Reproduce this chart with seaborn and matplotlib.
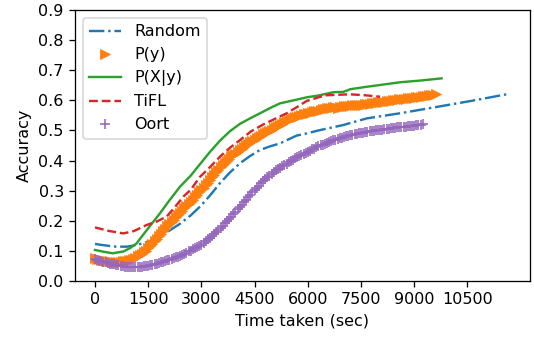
import matplotlib
matplotlib.use("Agg")
import matplotlib.pyplot as plt
import seaborn as sns

# Random client selection
random_t = [0, 300, 600, 900, 1200, 1600, 2000, 2396, 2700, 2960, 3250, 3524, 3800,
            4088, 4370, 4652, 4930, 5216, 5686, 5968, 6300, 7000, 7660, 8600, 9630,
            10600, 11600]
random_acc = [0.123, 0.118, 0.114, 0.114, 0.120, 0.135, 0.160, 0.190, 0.218, 0.247,
              0.285, 0.325, 0.360, 0.391, 0.415, 0.435, 0.447, 0.457, 0.483, 0.490,
              0.500, 0.518, 0.540, 0.557, 0.578, 0.598, 0.620]

# Wall-clock time at the end of each training round (sec)
round_times = [
    0, 60, 120, 180, 240, 300, 360, 420, 480, 540, 600, 660, 720, 780, 840, 900,
    960, 1020, 1080, 1140, 1200, 1260, 1320, 1380, 1440, 1500, 1560, 1620, 1680,
    1740, 1800, 1860, 1920, 1980, 2040, 2100, 2160, 2220, 2280, 2340, 2400, 2460,
    2520, 2580, 2640, 2700, 2760, 2820, 2880, 2940, 3000, 3060, 3120, 3180, 3240,
    3300, 3360, 3420, 3480, 3540, 3600, 3660, 3720, 3780, 3840, 3900, 3960, 4020,
    4080, 4140, 4200, 4260, 4320, 4380, 4440, 4500, 4560, 4620, 4680, 4740, 4800,
    4860, 4920, 4980, 5040, 5100, 5160, 5220, 5280, 5340, 5400, 5460, 5520, 5580,
    5640, 5700, 5760, 5820, 5880, 5940, 6000, 6060, 6120, 6180, 6240, 6300, 6360,
    6420, 6480, 6540, 6600, 6660, 6720, 6780, 6840, 6900, 6960, 7020, 7080, 7140,
    7200, 7260, 7320, 7380, 7440, 7500, 7560, 7620, 7680, 7740, 7800, 7860, 7920,
    7980, 8040, 8100, 8160, 8220, 8280, 8340, 8400, 8460, 8520, 8580, 8640, 8700,
    8760, 8820, 8880, 8940, 9000, 9060, 9120, 9180, 9240, 9300, 9360, 9420, 9480,
    9540, 9600]

# P(y) selection, accuracy after every round
py_acc = [
    0.075, 0.074, 0.072, 0.071, 0.069, 0.068, 0.066, 0.065, 0.064, 0.063, 0.063,
    0.063, 0.064, 0.065, 0.066, 0.067, 0.069, 0.071, 0.074, 0.078, 0.082, 0.086,
    0.090, 0.095, 0.101, 0.108, 0.116, 0.123, 0.132, 0.140, 0.150, 0.157, 0.166,
    0.173, 0.182, 0.190, 0.196, 0.203, 0.211, 0.219, 0.227, 0.234, 0.242, 0.248,
    0.255, 0.262, 0.269, 0.278, 0.285, 0.294, 0.302, 0.310, 0.319, 0.327, 0.335,
    0.344, 0.352, 0.361, 0.368, 0.377, 0.385, 0.392, 0.399, 0.406, 0.414, 0.418,
    0.423, 0.429, 0.434, 0.440, 0.445, 0.450, 0.455, 0.460, 0.465, 0.469, 0.474,
    0.479, 0.483, 0.487, 0.491, 0.495, 0.499, 0.503, 0.507, 0.511, 0.515, 0.519,
    0.523, 0.527, 0.531, 0.534, 0.537, 0.540, 0.543, 0.546, 0.549, 0.551, 0.554,
    0.555, 0.557, 0.559, 0.561, 0.563, 0.565, 0.566, 0.568, 0.570, 0.571, 0.573,
    0.574, 0.576, 0.578, 0.577, 0.576, 0.578, 0.579, 0.580, 0.580, 0.581, 0.582,
    0.583, 0.583, 0.584, 0.584, 0.585, 0.586, 0.587, 0.588, 0.589, 0.590, 0.591,
    0.592, 0.593, 0.594, 0.595, 0.596, 0.597, 0.598, 0.599, 0.600, 0.601, 0.602,
    0.603, 0.604, 0.605, 0.606, 0.607, 0.607, 0.608, 0.609, 0.610, 0.611, 0.612,
    0.613, 0.614, 0.615, 0.617, 0.618, 0.619, 0.620]

# Oort, accuracy after every round (stops earlier)
oort_acc = [
    0.072, 0.070, 0.068, 0.066, 0.064, 0.062, 0.060, 0.058, 0.056, 0.055, 0.053,
    0.052, 0.050, 0.049, 0.048, 0.047, 0.047, 0.046, 0.046, 0.046, 0.046, 0.047,
    0.048, 0.049, 0.050, 0.051, 0.053, 0.054, 0.056, 0.058, 0.060, 0.062, 0.064,
    0.066, 0.069, 0.071, 0.073, 0.076, 0.079, 0.081, 0.084, 0.087, 0.091, 0.094,
    0.098, 0.101, 0.105, 0.109, 0.113, 0.117, 0.121, 0.126, 0.132, 0.138, 0.144,
    0.150, 0.157, 0.163, 0.170, 0.177, 0.184, 0.191, 0.199, 0.206, 0.214, 0.222,
    0.230, 0.238, 0.246, 0.254, 0.262, 0.270, 0.278, 0.286, 0.294, 0.302, 0.309,
    0.317, 0.324, 0.331, 0.338, 0.344, 0.350, 0.356, 0.361, 0.367, 0.372, 0.376,
    0.381, 0.386, 0.390, 0.394, 0.398, 0.403, 0.407, 0.411, 0.415, 0.419, 0.422,
    0.426, 0.430, 0.433, 0.437, 0.440, 0.444, 0.447, 0.450, 0.453, 0.456, 0.459,
    0.462, 0.464, 0.467, 0.469, 0.472, 0.474, 0.476, 0.478, 0.480, 0.482, 0.484,
    0.486, 0.487, 0.489, 0.490, 0.492, 0.493, 0.494, 0.496, 0.497, 0.498, 0.499,
    0.500, 0.501, 0.502, 0.503, 0.504, 0.505, 0.506, 0.507, 0.508, 0.509, 0.510,
    0.510, 0.511, 0.512, 0.513, 0.514, 0.514, 0.515, 0.516, 0.517, 0.518, 0.519,
    0.520]

# P(X|y) selection
pxy_t = [0, 250, 500, 800, 1000, 1175, 1269, 1500, 1833, 2100, 2396, 2700, 2960,
         3250, 3524, 3800, 4088, 4370, 4652, 4930, 5216, 5600, 5968, 6300, 6720,
         7000, 7200, 7660, 8100, 8600, 9200, 9770]
pxy_acc = [0.103, 0.097, 0.092, 0.098, 0.110, 0.125, 0.140, 0.175, 0.225, 0.268,
           0.313, 0.350, 0.388, 0.430, 0.466, 0.497, 0.522, 0.540, 0.557, 0.574,
           0.590, 0.600, 0.610, 0.616, 0.627, 0.628, 0.637, 0.645, 0.652, 0.660,
           0.666, 0.673]

# TiFL
tifl_t = [0, 400, 800, 1100, 1457, 1750, 2021, 2250, 2490, 2700, 2960, 3240, 3524,
          3800, 4088, 4400, 4746, 5100, 5404, 5700, 5968, 6300, 6532, 7189, 7600, 8035]
tifl_acc = [0.178, 0.166, 0.158, 0.166, 0.186, 0.198, 0.214, 0.245, 0.280, 0.303,
            0.346, 0.378, 0.413, 0.442, 0.468, 0.497, 0.520, 0.540, 0.557, 0.578,
            0.598, 0.610, 0.617, 0.620, 0.617, 0.612]

x_ticks = [0, 1500, 3000, 4500, 6000, 7500, 9000, 10500]
y_ticks = [0.0, 0.1, 0.2, 0.3, 0.4, 0.5, 0.6, 0.7, 0.8, 0.9]

DPI = 115
fig, ax = plt.subplots(figsize=(534 / DPI, 337 / DPI), dpi=DPI)
fig.subplots_adjust(left=0.1404, right=0.9925, bottom=0.1662, top=0.9703)

pal = sns.color_palette("tab10")

sns.lineplot(x=random_t, y=random_acc, ax=ax, sort=False, estimator=None,
             color=pal[0], linestyle="-.", label="Random")
sns.lineplot(x=round_times, y=py_acc, ax=ax, sort=False, estimator=None,
             color=pal[1], linestyle="", marker=">", markersize=6,
             markeredgecolor=pal[1], markeredgewidth=0.5, label="P(y)")
sns.lineplot(x=pxy_t, y=pxy_acc, ax=ax, sort=False, estimator=None,
             color=pal[2], linestyle="-", label="P(X|y)")
sns.lineplot(x=tifl_t, y=tifl_acc, ax=ax, sort=False, estimator=None,
             color=pal[3], linestyle="--", label="TiFL")
sns.lineplot(x=round_times[:len(oort_acc)], y=oort_acc, ax=ax, sort=False,
             estimator=None, color=pal[4], linestyle="", marker="+",
             markersize=6, markeredgecolor=pal[4], markeredgewidth=1.0,
             label="Oort")

ax.set_xlim(-564, 12264)
ax.set_ylim(0, 0.9)
ax.set_xticks(x_ticks)
ax.set_xticklabels([str(v) for v in x_ticks])
ax.set_yticks(y_ticks)
ax.set_yticklabels([f"{v:.1f}" for v in y_ticks])
ax.set_xlabel("Time taken (sec)")
ax.set_ylabel("Accuracy")
ax.legend(loc="upper left")

fig.savefig("out.png", dpi=DPI)
